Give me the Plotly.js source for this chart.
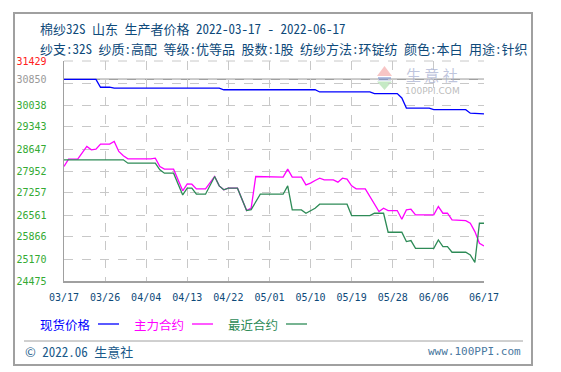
<!DOCTYPE html>
<html>
<head>
<meta charset="utf-8">
<script src="https://cdn.plot.ly/plotly-3.0.1.min.js"></script>
<style>
html,body{margin:0;padding:0;background:#fff;}
#chart{width:561px;height:372px;}
</style>
</head>
<body>
<div id="chart"></div>
<script>
// ---- data ----
var spotDates = ['2022-03-17','2022-03-24','2022-03-25','2022-03-27','2022-03-28','2022-04-20','2022-04-21','2022-05-11','2022-05-12','2022-05-23','2022-05-24','2022-05-29','2022-05-30','2022-05-31','2022-06-05','2022-06-06','2022-06-13','2022-06-14','2022-06-17'];
var spotValues = [30850,30850,30600,30600,30570,30570,30520,30520,30450,30450,30400,30400,30260,29940,29940,29890,29890,29780,29760];

var mainDates = ['2022-03-17','2022-03-18','2022-03-20','2022-03-22','2022-03-23','2022-03-24','2022-03-25','2022-03-27','2022-03-28','2022-03-29','2022-03-30','2022-03-31','2022-04-05','2022-04-06','2022-04-07','2022-04-08','2022-04-10','2022-04-12','2022-04-13','2022-04-14','2022-04-15','2022-04-17','2022-04-19','2022-04-20','2022-04-21','2022-04-22','2022-04-24','2022-04-26','2022-04-27','2022-04-28','2022-05-04','2022-05-05','2022-05-06','2022-05-08','2022-05-09','2022-05-10','2022-05-11','2022-05-12','2022-05-13','2022-05-15','2022-05-16','2022-05-17','2022-05-18','2022-05-19','2022-05-20','2022-05-22','2022-05-25','2022-05-26','2022-05-27','2022-05-29','2022-05-30','2022-05-31','2022-06-01','2022-06-02','2022-06-06','2022-06-07','2022-06-08','2022-06-09','2022-06-10','2022-06-13','2022-06-14','2022-06-15','2022-06-16','2022-06-17'];
var mainValues = [28095,28327,28327,28728,28622,28643,28801,28801,28886,28570,28432,28337,28337,28358,28095,28010,28010,27324,27546,27535,27387,27387,27778,27482,27356,27409,27409,26702,26776,27778,27757,28010,27757,27757,27514,27567,27651,27725,27672,27672,27598,27725,27693,27482,27387,27387,26670,26776,26702,26702,26427,26723,26744,26565,26565,26828,26617,26617,26406,26385,26301,26037,25668,25583];

var nearDates = ['2022-03-17','2022-03-30','2022-03-31','2022-04-06','2022-04-07','2022-04-08','2022-04-10','2022-04-12','2022-04-13','2022-04-14','2022-04-15','2022-04-17','2022-04-19','2022-04-20','2022-04-21','2022-04-22','2022-04-24','2022-04-26','2022-04-27','2022-04-28','2022-04-29','2022-05-04','2022-05-05','2022-05-06','2022-05-08','2022-05-09','2022-05-10','2022-05-11','2022-05-12','2022-05-18','2022-05-19','2022-05-23','2022-05-24','2022-05-26','2022-05-27','2022-05-30','2022-05-31','2022-06-01','2022-06-02','2022-06-06','2022-06-07','2022-06-08','2022-06-09','2022-06-10','2022-06-13','2022-06-14','2022-06-15','2022-06-16','2022-06-17'];
var nearValues = [28306,28306,28200,28200,27990,27883,27883,27197,27409,27409,27219,27219,27778,27482,27356,27409,27409,26702,26733,26987,27219,27219,27482,26723,26723,26617,26691,26776,26902,26902,26543,26543,26617,26617,26016,26016,25720,25752,25509,25509,25773,25562,25562,25383,25383,25298,25066,26301,26301];

var xTickDates = ['2022-03-17','2022-03-26','2022-04-04','2022-04-13','2022-04-22','2022-05-01','2022-05-10','2022-05-19','2022-05-28','2022-06-06','2022-06-17'];
var xTickLabels = ['03/17','03/26','04/04','04/13','04/22','05/01','05/10','05/19','05/28','06/06','06/17'];

var yTickVals = [24475,25170,25866,26561,27257,27952,28647,29343,30038,30733,30850,31429];
var yTickLabels = ['24475','25170','25866','26561','27257','27952','28647','29343','30038','','30850','31429'];
var pctTickLabels = ['-20.66%','-18.41%','-16.15%','-13.90%','-11.65%','-9.39%','-7.14%','-4.88%','-2.63%','','0.00%','1.88%'];
var refValue = 30850;
var yMin = 24475, yMax = 31429;

var seriesNames = ['现货价格','主力合约','最近合约'];
var titleLine1 = '棉纱32S 山东 生产者价格 2022-03-17 - 2022-06-17';
var titleLine2 = '纱支:32S 纱质:高配 等级:优等品 股数:1股 纺纱方法:环锭纺 颜色:本白 用途:针织';

// ---- layout helpers (pixel -> paper) ----
var L = 64, T = 61, W = 420, H = 220, R = 561 - L - W, B = 372 - T - H;
function px(x){ return (x - L) / W; }
function py(y){ return (T + H - y) / H; }

var RED = '#ff2020', GREY = '#999999', GREEN = '#33aa33';
function colorTick(txt, i, n){
  if (txt === '') return '';
  if (i === n - 1) return '<span style="color:' + RED + '">' + txt + '</span>';
  if (i === n - 2) return '<span style="color:' + GREY + '">' + txt + '</span>';
  return txt;
}
var leftText = yTickLabels.map(function(t,i){ return colorTick(t,i,yTickLabels.length); });
var rightText = pctTickLabels.map(function(t,i){ return colorTick(t,i,pctTickLabels.length); });

var COL = ['#0000ff', '#ff00ff', '#2e8b57'];
var traces = [
  {x: spotDates, y: spotValues, name: seriesNames[0], type: 'scatter', mode: 'lines', line: {color: COL[0], width: 1.3}},
  {x: mainDates, y: mainValues, name: seriesNames[1], type: 'scatter', mode: 'lines', line: {color: COL[1], width: 1.3}},
  {x: nearDates, y: nearValues, name: seriesNames[2], type: 'scatter', mode: 'lines', line: {color: COL[2], width: 1.3}}
];

var CJK = '"Noto Sans CJK SC", sans-serif';
var CJKMONO = '"Noto Sans Mono CJK SC", "Noto Sans CJK SC", monospace';
var MONO = '"DejaVu Sans Mono", monospace';
var NAVY = '#0e4a7a';

var annotations = [
  {text: titleLine1, x: px(38), y: py(28), xref: 'paper', yref: 'paper', xanchor: 'left', yanchor: 'middle', showarrow: false, font: {family: CJKMONO, size: 13, color: NAVY}},
  {text: titleLine2, x: px(38), y: py(48), xref: 'paper', yref: 'paper', xanchor: 'left', yanchor: 'middle', showarrow: false, font: {family: CJKMONO, size: 13, color: NAVY}},
  // watermark
  {text: '生 意 社', x: px(432), y: py(74), xref: 'paper', yref: 'paper', xanchor: 'center', yanchor: 'middle', showarrow: false, font: {family: CJK, size: 15, color: 'rgba(170,178,210,0.75)'}},
  {text: '100PPI.COM', x: px(432), y: py(91), xref: 'paper', yref: 'paper', xanchor: 'center', yanchor: 'middle', showarrow: false, font: {family: '"DejaVu Sans", sans-serif', size: 9, color: 'rgba(180,180,180,0.9)'}},
  // legend
  {text: seriesNames[0], x: px(38), y: py(324), xref: 'paper', yref: 'paper', xanchor: 'left', yanchor: 'middle', showarrow: false, font: {family: CJK, size: 12.5, color: COL[0]}},
  {text: seriesNames[1], x: px(132), y: py(324), xref: 'paper', yref: 'paper', xanchor: 'left', yanchor: 'middle', showarrow: false, font: {family: CJK, size: 12.5, color: COL[1]}},
  {text: seriesNames[2], x: px(226), y: py(324), xref: 'paper', yref: 'paper', xanchor: 'left', yanchor: 'middle', showarrow: false, font: {family: CJK, size: 12.5, color: COL[2]}},
  // footer
  {text: '© 2022.06 生意社', x: px(23), y: py(351), xref: 'paper', yref: 'paper', xanchor: 'left', yanchor: 'middle', showarrow: false, font: {family: CJKMONO, size: 13, color: '#1a5a8a'}},
  {text: 'www.100PPI.com', x: px(523), y: py(351), xref: 'paper', yref: 'paper', xanchor: 'right', yanchor: 'middle', showarrow: false, font: {family: MONO, size: 11, color: '#4a78a0'}}
];

function lineShape(x0,y0,x1,y1,color,width,dash){
  return {type:'line', xref:'paper', yref:'paper', x0:px(x0), y0:py(y0), x1:px(x1), y1:py(y1), line:{color:color, width:width, dash:dash||'solid'}, layer:'above'};
}
function pathShape(pts, fill){
  var d = pts.map(function(p,i){ return (i?'L':'M') + px(p[0]) + ',' + py(p[1]); }).join(' ') + ' Z';
  return {type:'path', xref:'paper', yref:'paper', path:d, fillcolor:fill, line:{width:0}, layer:'below'};
}

var shapes = [
  // outer frame
  {type:'rect', xref:'paper', yref:'paper', x0:px(14), y0:py(13), x1:px(532), y1:py(365), line:{color:'#a0a0a0', width:2}, layer:'below'},
  // top dashed border of plot
  lineShape(L, T, L + W, T, '#c8c8c8', 1, 'dash'),
  // reference line (0%)
  {type:'line', xref:'paper', yref:'y', x0:0, x1:1, y0:refValue, y1:refValue, line:{color:'#a0a0a0', width:1.5}, layer:'below'},
  // legend lines
  lineShape(98, 324, 119, 324, COL[0], 1.3),
  lineShape(192, 324, 213, 324, COL[1], 1.3),
  lineShape(286, 324, 307, 324, COL[2], 1.3),
  // footer separator
  lineShape(24, 341, 523, 341, '#a0a0a0', 1),
  // watermark logo
  pathShape([[377,76],[392,76],[384.5,66]], 'rgba(240,150,150,0.55)'),
  {type:'rect', xref:'paper', yref:'paper', x0:px(378), y0:py(77), x1:px(391), y1:py(80.5), fillcolor:'rgba(130,150,210,0.6)', line:{width:0}, layer:'below'},
  pathShape([[377,81.5],[392,81.5],[384.5,90]], 'rgba(150,215,150,0.55)')
];

var layout = {
  width: 561, height: 372,
  margin: {l: L, r: R, t: T, b: B, pad: 0},
  paper_bgcolor: '#ffffff', plot_bgcolor: '#ffffff',
  showlegend: false,
  xaxis: {
    type: 'date', range: ['2022-03-17', '2022-06-17'],
    tickmode: 'array', tickvals: xTickDates, ticktext: xTickLabels,
    showgrid: true, gridcolor: '#c8c8c8', griddash: 'dash', gridwidth: 1,
    showline: true, linecolor: '#a0a0a0', linewidth: 1.5,
    ticks: 'outside', ticklen: 6, tickcolor: 'rgba(0,0,0,0)',
    tickfont: {family: MONO, size: 10, color: '#0e4a7a'},
    zeroline: false, fixedrange: true
  },
  yaxis: {
    range: [yMin, yMax],
    tickmode: 'array', tickvals: yTickVals, ticktext: leftText,
    showgrid: true, gridcolor: '#c8c8c8', griddash: 'dash', gridwidth: 1,
    showline: true, linecolor: '#a0a0a0', linewidth: 1.5,
    ticks: 'outside', ticklen: 14, tickcolor: 'rgba(0,0,0,0)',
    tickfont: {family: MONO, size: 10, color: GREEN},
    zeroline: false, fixedrange: true
  },
  yaxis2: {
    range: [yMin, yMax], overlaying: 'y', side: 'right', anchor: 'x',
    tickmode: 'array', tickvals: yTickVals, ticktext: rightText,
    showgrid: false,
    showline: true, linecolor: '#a0a0a0', linewidth: 1.5,
    ticks: 'outside', ticklen: 3, tickcolor: 'rgba(0,0,0,0)',
    tickfont: {family: MONO, size: 10, color: GREEN},
    zeroline: false, fixedrange: true
  },
  annotations: annotations,
  shapes: shapes
};

Plotly.newPlot('chart', traces, layout, {staticPlot: true, displayModeBar: false});
</script>
</body>
</html>
